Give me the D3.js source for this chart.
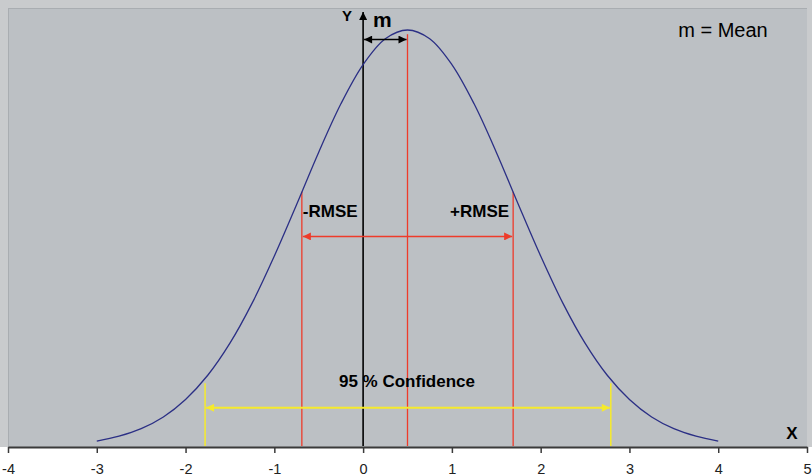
<!DOCTYPE html>
<html>
<head>
<meta charset="utf-8">
<script src="https://cdn.jsdelivr.net/npm/d3@7"></script>
<style>
  body { margin: 0; background: #fff; }
  svg { display: block; font-family: "Liberation Sans", Arial, sans-serif; }
</style>
</head>
<body>
<div id="chart"></div>
<script>
// values
const xTicks = [-4, -3, -2, -1, 0, 1, 2, 3, 4, 5];
const curveX = [-3, -2.75, -2.5, -2.25, -2, -1.75, -1.5, -1.25, -1, -0.75, -0.5, -0.25, 0, 0.25, 0.5,
                0.75, 1, 1.25, 1.5, 1.75, 2, 2.25, 2.5, 2.75, 3, 3.25, 3.5, 3.75, 4];
const curveY = [0.014, 0.026, 0.044, 0.072, 0.114, 0.172, 0.249, 0.345, 0.458, 0.581, 0.707, 0.823, 0.917, 0.979, 1.0,
                0.979, 0.917, 0.823, 0.707, 0.581, 0.458, 0.345, 0.249, 0.172, 0.114, 0.072, 0.044, 0.026, 0.014];
const meanX = [0.5];
const meanTop = [0.99];
const rmseX = [-0.69, 1.69];
const rmseTop = [0.612, 0.612];
const confX = [-1.78, 2.79];
const confTop = [0.153, 0.153];

const width = 812, height = 476;
const svg = d3.select("#chart").append("svg")
    .attr("width", width)
    .attr("height", height);

const x = d3.scaleLinear().domain([-4, 5]).range([8, 807]);
const y = d3.scaleLinear().domain([0, 1]).range([447, 30]);

// chart area + plot area
svg.append("rect").attr("x", 0).attr("y", 0).attr("width", width).attr("height", 447)
    .attr("fill", "#c9cbcd");
svg.append("rect").attr("x", 8).attr("y", 8).attr("width", 799).attr("height", 439)
    .attr("fill", "#bcc0c4");
svg.append("line").attr("x1", 8).attr("x2", 807).attr("y1", 8.5).attr("y2", 8.5)
    .attr("stroke", "#a9adb1");
svg.append("line").attr("x1", 8.5).attr("x2", 8.5).attr("y1", 8).attr("y2", 447)
    .attr("stroke", "#a9adb1");

// arrow heads
const defs = svg.append("defs");
function marker(id, color, w, h) {
    defs.append("marker")
        .attr("id", id)
        .attr("viewBox", "0 0 10 10")
        .attr("refX", 10).attr("refY", 5)
        .attr("markerWidth", w).attr("markerHeight", h)
        .attr("markerUnits", "userSpaceOnUse")
        .attr("orient", "auto-start-reverse")
        .append("path")
        .attr("d", "M0,0 L10,5 L0,10 Z")
        .attr("fill", color);
}
marker("arrRed", "#ee3b2a", 11, 8);
marker("arrYel", "#f6ea2c", 11, 8);
marker("arrBlk", "#000", 10, 8);

// x axis
const xAxis = d3.axisBottom(x).tickValues(xTicks).tickSize(6).tickSizeOuter(0)
    .tickFormat(d => d < 0 ? "-" + Math.abs(d) : d);
const gx = svg.append("g").attr("transform", "translate(0,447)").call(xAxis);
gx.select(".domain").attr("stroke", "#3a3a3a").attr("stroke-width", 2);
gx.selectAll(".tick line").attr("stroke", "#3a3a3a").attr("stroke-width", 1.5);
gx.selectAll(".tick text").attr("fill", "#222").attr("font-size", 14.5).attr("dy", "1.25em");

// y axis line with arrow on top
svg.append("line")
    .attr("x1", x(0)).attr("x2", x(0))
    .attr("y1", 446).attr("y2", 12)
    .attr("stroke", "#000").attr("stroke-width", 1.6)
    .attr("marker-end", "url(#arrBlk)");
svg.append("text").attr("x", x(0) - 16).attr("y", 21)
    .attr("text-anchor", "middle").attr("font-size", 15).attr("font-weight", "bold")
    .text("Y");
svg.append("text").attr("x", 792).attr("y", 439)
    .attr("text-anchor", "middle").attr("font-size", 17).attr("font-weight", "bold")
    .text("X");

// red vertical lines
svg.selectAll(".mean").data(meanX).enter().append("line")
    .attr("x1", d => x(d)).attr("x2", d => x(d))
    .attr("y1", (d, i) => y(meanTop[i])).attr("y2", 446)
    .attr("stroke", "#ee3b2a").attr("stroke-width", 1.3);
svg.selectAll(".rmse").data(rmseX).enter().append("line")
    .attr("x1", d => x(d)).attr("x2", d => x(d))
    .attr("y1", (d, i) => y(rmseTop[i])).attr("y2", 446)
    .attr("stroke", "#ee3b2a").attr("stroke-width", 1.3);
svg.selectAll(".conf").data(confX).enter().append("line")
    .attr("x1", d => x(d)).attr("x2", d => x(d))
    .attr("y1", (d, i) => y(confTop[i])).attr("y2", 446)
    .attr("stroke", "#f6ea2c").attr("stroke-width", 1.5);

// curve
const line = d3.line().x(d => x(d[0])).y(d => y(d[1])).curve(d3.curveCatmullRom);
svg.append("path")
    .datum(curveX.map((v, i) => [v, curveY[i]]))
    .attr("d", line)
    .attr("fill", "none")
    .attr("stroke", "#2b2f85")
    .attr("stroke-width", 1.3);

// double arrows
function dblArrow(x0, x1, yv, color, id, sw) {
    svg.append("line")
        .attr("x1", x(x0) + 1).attr("x2", x(x1) - 1)
        .attr("y1", y(yv)).attr("y2", y(yv))
        .attr("stroke", color).attr("stroke-width", sw)
        .attr("marker-start", `url(#${id})`)
        .attr("marker-end", `url(#${id})`);
}
dblArrow(0, meanX[0], 0.977, "#000", "arrBlk", 1.5);
dblArrow(rmseX[0], rmseX[1], 0.505, "#ee3b2a", "arrRed", 1.5);
dblArrow(confX[0], confX[1], 0.094, "#f6ea2c", "arrYel", 2);

// labels
svg.append("text").attr("x", x(0) + 10).attr("y", 27)
    .attr("font-size", 21).attr("font-weight", "bold").text("m");
svg.append("text").attr("x", 723).attr("y", 37)
    .attr("text-anchor", "middle").attr("font-size", 20).text("m = Mean");
svg.append("text").attr("x", x(rmseX[0]) + 1).attr("y", 217)
    .attr("font-size", 17).attr("font-weight", "bold").text("-RMSE");
svg.append("text").attr("x", x(rmseX[1]) - 4).attr("y", 217)
    .attr("text-anchor", "end").attr("font-size", 17).attr("font-weight", "bold").text("+RMSE");
svg.append("text").attr("x", 407).attr("y", 387)
    .attr("text-anchor", "middle").attr("font-size", 17).attr("font-weight", "bold").text("95 % Confidence");
</script>
</body>
</html>
